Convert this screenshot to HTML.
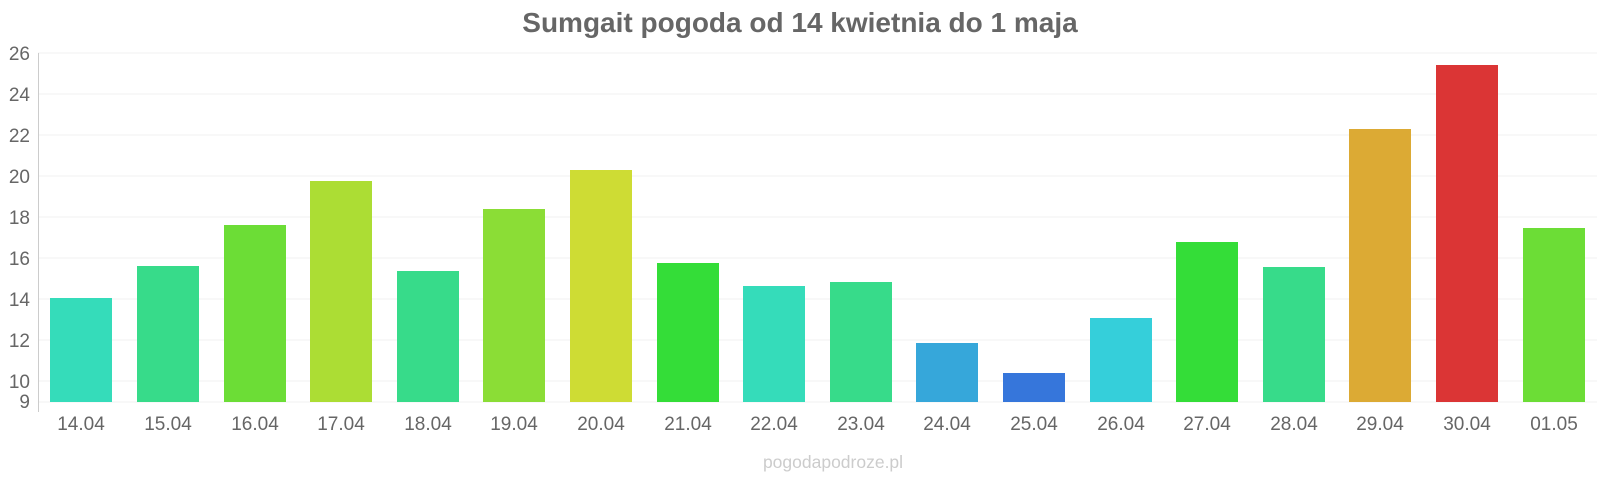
<!DOCTYPE html>
<html><head><meta charset="utf-8"><style>html,body{margin:0;padding:0;background:#fff}svg{display:block}text{font-family:"Liberation Sans",Arial,sans-serif}</style></head>
<body>
<svg width="1600" height="480" viewBox="0 0 1600 480" xmlns="http://www.w3.org/2000/svg">
<text x="800" y="32" text-anchor="middle" font-size="28" font-weight="bold" fill="#666">Sumgait pogoda od 14 kwietnia do 1 maja</text>
<g stroke="#f0f0f0" stroke-width="1">
<line x1="38" x2="1597" y1="53" y2="53"/><line x1="38" x2="1597" y1="94" y2="94"/><line x1="38" x2="1597" y1="135" y2="135"/><line x1="38" x2="1597" y1="176" y2="176"/><line x1="38" x2="1597" y1="217" y2="217"/><line x1="38" x2="1597" y1="258" y2="258"/><line x1="38" x2="1597" y1="299" y2="299"/><line x1="38" x2="1597" y1="340" y2="340"/><line x1="38" x2="1597" y1="381" y2="381"/><line x1="38" x2="1597" y1="402" y2="402"/>
</g>
<line x1="38.5" x2="38.5" y1="53" y2="412" stroke="#ccc"/>
<g font-size="19" fill="#666" text-anchor="end">
<text x="30" y="60">26</text><text x="30" y="101">24</text><text x="30" y="142">22</text><text x="30" y="183">20</text><text x="30" y="224">18</text><text x="30" y="265">16</text><text x="30" y="306">14</text><text x="30" y="347">12</text><text x="30" y="388">10</text><text x="30" y="408">9</text>
</g>
<g>
<rect x="50" y="298" width="62" height="104" fill="#35dcba"/>
<rect x="137" y="266" width="62" height="136" fill="#37db8a"/>
<rect x="224" y="225" width="62" height="177" fill="#6cdd36"/>
<rect x="310" y="181" width="62" height="221" fill="#acdd34"/>
<rect x="397" y="271" width="62" height="131" fill="#37db8a"/>
<rect x="483" y="209" width="62" height="193" fill="#8bdd36"/>
<rect x="570" y="170" width="62" height="232" fill="#cedc34"/>
<rect x="657" y="263" width="62" height="139" fill="#34dd38"/>
<rect x="743" y="286" width="62" height="116" fill="#35dcba"/>
<rect x="830" y="282" width="62" height="120" fill="#37db8a"/>
<rect x="916" y="343" width="62" height="59" fill="#36a7da"/>
<rect x="1003" y="373" width="62" height="29" fill="#3676db"/>
<rect x="1090" y="318" width="62" height="84" fill="#35cfda"/>
<rect x="1176" y="242" width="62" height="160" fill="#34dd38"/>
<rect x="1263" y="267" width="62" height="135" fill="#37db8a"/>
<rect x="1349" y="129" width="62" height="273" fill="#dcaa34"/>
<rect x="1436" y="65" width="62" height="337" fill="#db3535"/>
<rect x="1523" y="228" width="62" height="174" fill="#6cdd36"/>
</g>
<g font-size="19" fill="#666" text-anchor="middle">
<text x="81" y="430">14.04</text><text x="168" y="430">15.04</text><text x="255" y="430">16.04</text><text x="341" y="430">17.04</text><text x="428" y="430">18.04</text><text x="514" y="430">19.04</text><text x="601" y="430">20.04</text><text x="688" y="430">21.04</text><text x="774" y="430">22.04</text><text x="861" y="430">23.04</text><text x="947" y="430">24.04</text><text x="1034" y="430">25.04</text><text x="1121" y="430">26.04</text><text x="1207" y="430">27.04</text><text x="1294" y="430">28.04</text><text x="1380" y="430">29.04</text><text x="1467" y="430">30.04</text><text x="1554" y="430">01.05</text>
</g>
<text x="833" y="468" text-anchor="middle" font-size="17.5" fill="#ccc">pogodapodroze.pl</text>
</svg>
</body></html>
